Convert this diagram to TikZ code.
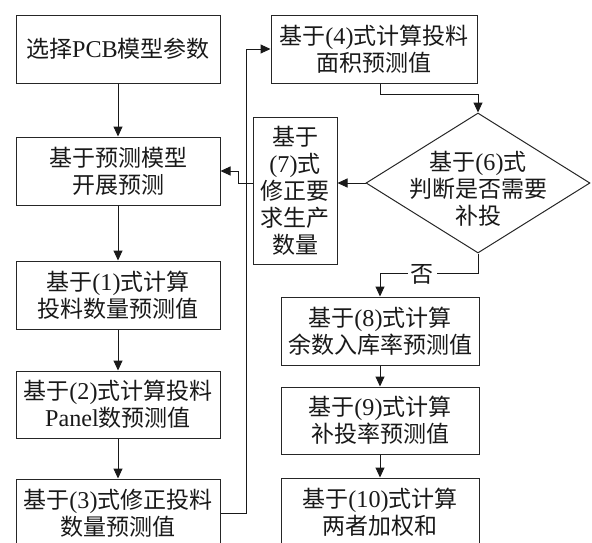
\documentclass[tikz,border=0pt]{standalone}
\usepackage{fontspec}
\setmainfont{Noto Sans CJK SC}
\newfontfamily\lat{Liberation Serif}[Scale=1.05]
\usetikzlibrary{shapes.geometric,arrows.meta}
\tikzset{
  box/.style={draw=black!85, line width=1pt, align=center, inner sep=0pt,
    font=\fontsize{23}{27}\selectfont, text=black!90},
  arr/.style={line width=1pt, draw=black!90, -{Triangle[length=10pt,width=9pt]}},
  ln/.style={line width=1pt, draw=black!90},
  lbl/.style={font=\fontsize{23}{27}\selectfont, fill=white, inner sep=3pt, text=black!90}
}
\begin{document}
\begin{tikzpicture}[x=1pt,y=-1pt]
\useasboundingbox (0,0) rectangle (592,542);
\clip (0,0) rectangle (592,542);
% left column
\node[box, minimum width=204pt, minimum height=68pt] (b1) at (118,49) {选择{\lat PCB}模型参数};
\node[box, minimum width=204pt, minimum height=68pt] (b2) at (118,171) {基于预测模型\\开展预测};
\node[box, minimum width=204pt, minimum height=68pt] (b3) at (118,295) {基于{\lat(1)}式计算\\投料数量预测值};
\node[box, minimum width=204pt, minimum height=67pt] (b4) at (118,404.5) {基于{\lat(2)}式计算投料\\{\lat Panel}数预测值};
\node[box, minimum width=204pt, minimum height=68pt] (b5) at (118,513) {基于{\lat(3)}式修正投料\\数量预测值};
% right part
\node[box, minimum width=206pt, minimum height=68pt] (b6) at (374,49) {基于{\lat(4)}式计算投料\\面积预测值};
\node[draw=black!85, line width=1pt, diamond, minimum width=224pt, minimum height=140pt, inner sep=0pt] (d) at (478,183) {};
\node[box, draw=none] (dt) at (478,189) {基于{\lat(6)}式\\判断是否需要\\补投};
\node[box, minimum width=84pt, minimum height=147pt] (b7) at (295,190.5) {基于\\{\lat(7)}式\\修正要\\求生产\\数量};
\node[box, minimum width=198pt, minimum height=68pt] (b8) at (380,331) {基于{\lat(8)}式计算\\余数入库率预测值};
\node[box, minimum width=198pt, minimum height=67pt] (b9) at (380,420.5) {基于{\lat(9)}式计算\\补投率预测值};
\node[box, minimum width=198pt, minimum height=68pt] (b10) at (380,512) {基于{\lat(10)}式计算\\两者加权和};
% connectors
\draw[arr] (b1) -- (b2);
\draw[arr] (b2) -- (b3);
\draw[arr] (b3) -- (b4);
\draw[arr] (b4) -- (b5);
\draw[arr] (b5.east) -- ++(26,0) |- (b6.west);
\draw[arr] ([xshift=6pt]b6.south) -- ++(0,11) -| (d.north);
\draw[arr] (d.west) -- (b7.east |- d.west);
\draw[arr] (b7.west |- d.west) -- (238,183) |- (b2.east);
\draw[arr] (d.south) -- ++(0,20) -| (b8.north);
\node[lbl] (no) at (422,274) {否};
\draw[arr] (b8) -- (b9);
\draw[arr] (b9) -- (b10);
\end{tikzpicture}
\end{document}
